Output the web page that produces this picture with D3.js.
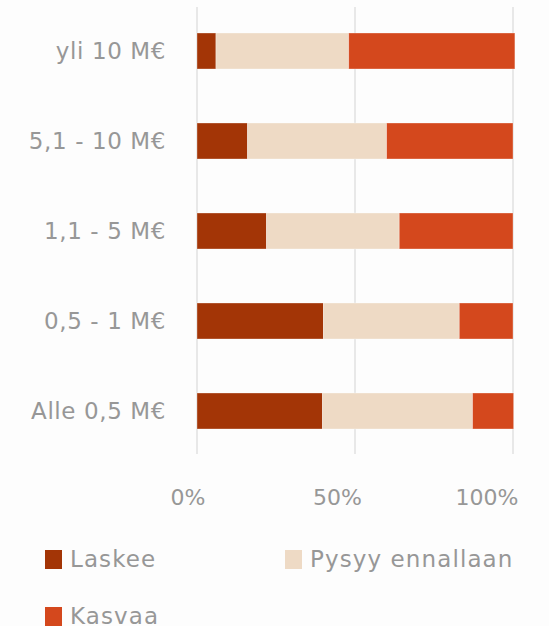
<!DOCTYPE html>
<html>
<head>
  <meta charset="UTF-8">
  <style>
    body { margin: 0; background: #fdfdfd; }
    svg { display: block; }
    text { font-family: "DejaVu Sans", sans-serif; fill: #979797; }
  </style>
</head>
<body>

<svg></svg>
<script src="https://d3js.org/d3.v7.min.js"></script>

<script>

// Data
let categories = ["yli 10 M€", "5,1 - 10 M€", "1,1 - 5 M€", "0,5 - 1 M€", "Alle 0,5 M€"];
let seriesNames = ["Laskee", "Pysyy ennallaan", "Kasvaa"];
let laskee = [6, 16, 22, 40, 39.7];
let pysyy = [42, 44, 42, 43, 47.5];
let kasvaa = [52.6, 40, 36, 17, 13];
let tickValues = [0, 50, 100];
let tickLabels = ["0%", "50%", "100%"];

let colors = ["#a33506", "#eedac5", "#d4481d"];

let width = 549, height = 626;

let svg = d3.select("svg")
    .attr("width", width)
    .attr("height", height);

let rows = categories.map((c, i) => ({
  cat: c,
  "Laskee": laskee[i],
  "Pysyy ennallaan": pysyy[i],
  "Kasvaa": kasvaa[i]
}));

let stacked = d3.stack().keys(seriesNames)(rows);

let x = d3.scaleLinear().domain([0, 100]).range([197, 513]);
// tick labels sit a bit left of their gridlines in the original
let xLabel = d3.scaleLinear().domain([0, 100]).range([188, 487]);
let y = d3.scaleBand()
    .domain(categories)
    .range([6, 456])
    .paddingInner(0.6)
    .paddingOuter(0.3);

let color = d3.scaleOrdinal().domain(seriesNames).range(colors);

// gridlines
svg.append("g")
  .selectAll("line")
  .data(tickValues)
  .enter().append("line")
    .attr("x1", d => x(d))
    .attr("x2", d => x(d))
    .attr("y1", 7)
    .attr("y2", 454)
    .attr("stroke", "#e1e1e1")
    .attr("stroke-width", 1.5);

// bars
svg.append("g")
  .selectAll("g")
  .data(stacked)
  .enter().append("g")
    .attr("fill", d => color(d.key))
  .selectAll("rect")
  .data(d => d)
  .enter().append("rect")
    .attr("x", d => x(d[0]))
    .attr("width", d => x(d[1]) - x(d[0]))
    .attr("y", d => y(d.data.cat))
    .attr("height", y.bandwidth())
    .attr("stroke", "#ffffff")
    .attr("stroke-opacity", 0.4)
    .attr("stroke-width", 0.8);

// category labels
svg.append("g")
  .selectAll("text")
  .data(categories)
  .enter().append("text")
    .attr("x", 166)
    .attr("y", d => y(d) + y.bandwidth() / 2)
    .attr("dy", "0.36em")
    .attr("text-anchor", "end")
    .attr("font-size", 23)
    .attr("letter-spacing", 0.6)
    .text(d => d);

// x axis labels
svg.append("g")
  .selectAll("text")
  .data(tickValues)
  .enter().append("text")
    .attr("x", d => xLabel(d))
    .attr("y", 505)
    .attr("text-anchor", "middle")
    .attr("font-size", 22)
    .text((d, i) => tickLabels[i]);

// legend
let legendPos = [[45, 550], [285, 550], [45, 607]];
let legend = svg.append("g")
  .selectAll("g")
  .data(seriesNames)
  .enter().append("g")
    .attr("transform", (d, i) => `translate(${legendPos[i][0]}, ${legendPos[i][1]})`);

legend.append("rect")
    .attr("width", 17)
    .attr("height", 19)
    .attr("fill", d => color(d));

legend.append("text")
    .attr("x", 25)
    .attr("y", 17)
    .attr("font-size", 23)
    .attr("letter-spacing", 1.1)
    .text(d => d);

</script>

</body>
</html>
